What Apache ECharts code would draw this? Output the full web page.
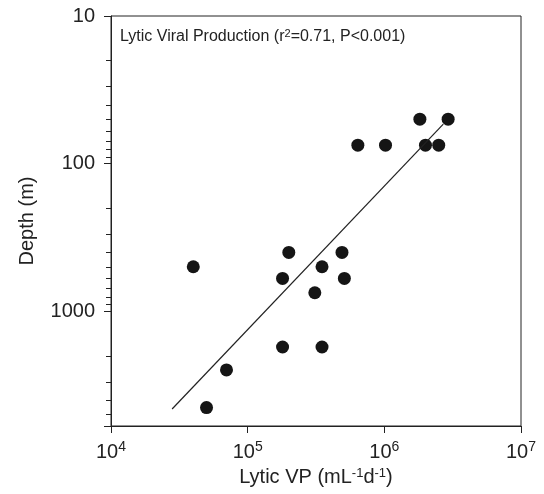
<!DOCTYPE html>
<html>
<head>
<meta charset="utf-8">
<script src="https://cdn.jsdelivr.net/npm/echarts@6/dist/echarts.min.js"></script>
<style>html,body{margin:0;padding:0;background:#fff;}#c{width:544px;height:494px;}</style>
</head>
<body>
<div id="c"></div>
<script>
// Lytic viral production (mL^-1 d^-1) vs depth (m)
const lyticVP = [1.82e6, 2.93e6, 6.4e5, 1.02e6, 2.0e6, 2.5e6, 2.0e5, 4.9e5, 4.0e4, 3.5e5, 1.8e5, 5.1e5, 3.1e5, 1.8e5, 3.5e5, 7.0e4, 5.0e4];
const depth   = [50, 50, 75, 75, 75, 75, 400, 400, 500, 500, 600, 600, 750, 1750, 1750, 2500, 4500];
// regression line end points
const fitVP    = [2.8e4, 2.7e6];
const fitDepth = [4600, 54];
// y-axis minor tick values
const yMinorTicks = [20,30,40,50,60,70,80,90,200,300,400,500,600,700,800,900,2000,3000,4000,5000];

const ink = '#222';
const chart = echarts.init(document.getElementById('c'));
function isPow10(v){ const l = Math.log10(v); return Math.abs(l - Math.round(l)) < 1e-6; }

chart.setOption({
  animation: false,
  grid: { left: 111, right: 23, top: 16, bottom: 68, show: true, borderColor: ink, borderWidth: 1 },
  xAxis: {
    type: 'log', logBase: 10, min: 1e4, max: 1e7,
    name: 'Lytic VP (mL{s|-1}d{s|-1})',
    nameLocation: 'middle', nameGap: 40,
    nameTextStyle: { fontFamily: 'Liberation Sans', fontSize: 20, color: ink,
      rich: { s: { fontFamily: 'Liberation Sans', fontSize: 13, color: ink, verticalAlign: 'top', padding: [0,0,8,0] } } },
    axisLine: { lineStyle: { color: ink, width: 1 } },
    axisTick: { inside: false, length: 7, lineStyle: { color: ink } },
    splitLine: { show: false },
    axisLabel: {
      margin: 14, fontFamily: 'Liberation Sans', fontSize: 20, color: ink,
      formatter: v => isPow10(v) ? '10{s|' + Math.round(Math.log10(v)) + '}' : '',
      rich: { s: { fontFamily: 'Liberation Sans', fontSize: 14, color: ink, verticalAlign: 'top', padding: [0,0,10,0] } }
    }
  },
  yAxis: {
    type: 'log', logBase: 10, min: 10, max: 6000, inverse: true,
    name: 'Depth (m)', nameLocation: 'middle', nameGap: 74,
    nameTextStyle: { fontFamily: 'Liberation Sans', fontSize: 20, color: ink },
    axisLine: { lineStyle: { color: ink, width: 1 } },
    axisTick: { inside: false, length: 7, lineStyle: { color: ink } },
    splitLine: { show: false },
    axisLabel: {
      margin: 16, fontFamily: 'Liberation Sans', fontSize: 20, color: ink,
      formatter: v => isPow10(v) ? String(Math.round(v)) : ''
    }
  },
  graphic: [{
    type: 'text', x: 120, y: 37,
    style: {
      text: 'Lytic Viral Production (r{s|2}=0.71, P<0.001)',
      fontFamily: 'Liberation Sans', fontSize: 16, fill: ink, verticalAlign: 'middle',
      rich: { s: { fontFamily: 'Liberation Sans', fontSize: 11, fill: ink, verticalAlign: 'top', padding: [0,0,6,0] } }
    }
  }],
  series: [
    {
      type: 'custom', silent: true, clip: false, z: 10,
      data: yMinorTicks.map(v => [1e4, v]),
      renderItem: (params, api) => {
        const p = api.coord([api.value(0), api.value(1)]);
        return { type: 'line', shape: { x1: p[0] - 5, y1: Math.round(p[1]) + 0.5, x2: p[0], y2: Math.round(p[1]) + 0.5 },
                 style: { stroke: ink, lineWidth: 1 } };
      }
    },
    {
      type: 'line', silent: true, symbol: 'none',
      data: fitVP.map((v, i) => [v, fitDepth[i]]),
      lineStyle: { color: ink, width: 1.2 }
    },
    {
      type: 'scatter', silent: true, symbol: 'circle', symbolSize: 13,
      data: lyticVP.map((v, i) => [v, depth[i]]),
      itemStyle: { color: '#151515', opacity: 1 }
    }
  ]
});
</script>
</body>
</html>
